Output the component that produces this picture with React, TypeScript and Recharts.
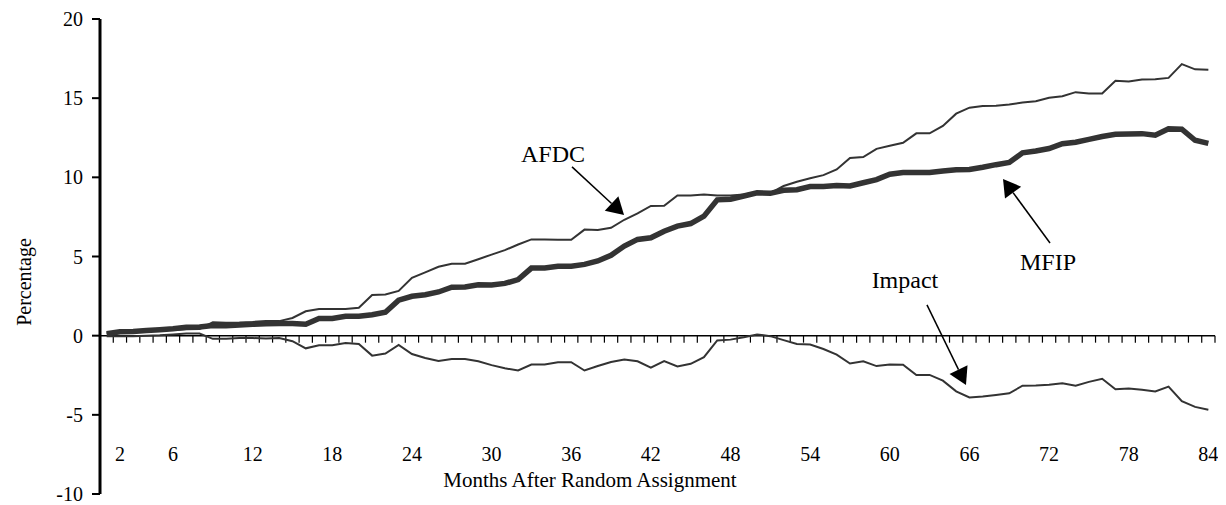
import { LineChart, Line, XAxis, YAxis, ReferenceLine } from "recharts";

const FONT = '"Liberation Serif", "Times New Roman", serif';

// months 1..84 after random assignment
const months = Array.from({ length: 84 }, (_, i) => i + 1);

const afdc = [
  0.15, 0.28, 0.3, 0.32, 0.36, 0.36, 0.4, 0.42, 0.84, 0.82, 0.83, 0.87,
  0.93, 0.92, 1.12, 1.54, 1.68, 1.68, 1.68, 1.76, 2.57, 2.6, 2.83, 3.65,
  4.0, 4.35, 4.54, 4.54, 4.83, 5.12, 5.4, 5.76, 6.08, 6.08, 6.06, 6.06,
  6.7, 6.67, 6.81, 7.32, 7.72, 8.19, 8.2, 8.86, 8.86, 8.92, 8.86, 8.86,
  8.92, 9.05, 9.0, 9.45, 9.72, 9.94, 10.14, 10.5, 11.22, 11.28, 11.8, 12.0,
  12.18, 12.78, 12.78, 13.25, 14.02, 14.4, 14.5, 14.52, 14.6, 14.72, 14.8, 15.02,
  15.12, 15.38, 15.3, 15.3, 16.1, 16.05, 16.18, 16.2, 16.28, 17.15, 16.82, 16.8,
];

const mfip = [
  0.12, 0.25, 0.27, 0.32, 0.38, 0.44, 0.53, 0.55, 0.64, 0.63, 0.68, 0.72,
  0.75, 0.77, 0.77, 0.72, 1.08, 1.08, 1.22, 1.22, 1.32, 1.48, 2.24, 2.49,
  2.59, 2.76, 3.06, 3.07, 3.22, 3.2, 3.3, 3.54, 4.27, 4.28, 4.38, 4.39,
  4.5, 4.72, 5.08, 5.66, 6.08, 6.18, 6.6, 6.92, 7.08, 7.55, 8.58, 8.62,
  8.82, 9.02, 8.99, 9.18, 9.22, 9.42, 9.42, 9.48, 9.45, 9.66, 9.86, 10.2,
  10.3, 10.3, 10.3, 10.4, 10.48, 10.5, 10.64, 10.8, 10.94, 11.55, 11.66, 11.82,
  12.12, 12.22, 12.4, 12.58, 12.72, 12.74, 12.76, 12.66, 13.06, 13.04, 12.34, 12.14,
];

const impact = [
  -0.04, -0.04, -0.04, 0.0, 0.02, 0.08, 0.13, 0.13, -0.2, -0.19, -0.15, -0.15,
  -0.18, -0.15, -0.35, -0.8, -0.61, -0.6, -0.46, -0.53, -1.26, -1.13, -0.58, -1.16,
  -1.41, -1.6, -1.48, -1.48, -1.62, -1.86, -2.06, -2.2, -1.82, -1.82, -1.68, -1.68,
  -2.2, -1.92, -1.66, -1.5, -1.62, -2.02, -1.6, -1.94, -1.78, -1.36, -0.3, -0.25,
  -0.1, 0.08, -0.03, -0.28, -0.52, -0.56, -0.84, -1.2, -1.76, -1.62, -1.92, -1.82,
  -1.84, -2.48, -2.48, -2.84, -3.52, -3.9, -3.84, -3.74, -3.64, -3.16, -3.14, -3.1,
  -3.0, -3.16, -2.92, -2.72, -3.38, -3.33, -3.42, -3.52, -3.22, -4.14, -4.5, -4.68,
];

const monthTicks = [2, 6, 12, 18, 24, 30, 36, 42, 48, 54, 60, 66, 72, 78, 84];
const pctTicks = [-10, -5, 0, 5, 10, 15, 20];

// callouts: arrow from -> to in (month, %) with label offset from the arrow tail
const callouts = [
  { text: "AFDC", from: [36.06, 10.66], to: [39.98, 7.62], dx: -19, dy: -5 },
  { text: "MFIP", from: [72.07, 5.85], to: [68.53, 9.9], dx: -2, dy: 27 },
  { text: "Impact", from: [62.8, 1.94], to: [65.74, -3.11], dx: -22, dy: -17 },
];

const data = months.map((m, i) => ({
  month: m,
  afdc: afdc[i],
  mfip: mfip[i],
  impact: impact[i],
}));

// zero line doubles as the category axis: one tick between each month
function ZeroAxis(props: any) {
  const { x1, y1, x2, y2 } = props;
  const step = (x2 - x1) / months.length;
  return (
    <g>
      <line x1={x1} y1={y1} x2={x2} y2={y2} stroke="#000" strokeWidth={1.5} />
      {months.map((m) => (
        <line
          key={m}
          x1={x1 + m * step}
          x2={x1 + m * step}
          y1={y1}
          y2={y1 + 7}
          stroke="#000"
          strokeWidth={1.2}
        />
      ))}
    </g>
  );
}

function makeArrow(text: string, dx: number, dy: number) {
  return (props: any) => {
    const { x1, y1, x2, y2 } = props;
    const len = Math.hypot(x2 - x1, y2 - y1);
    const ux = (x2 - x1) / len;
    const uy = (y2 - y1) / len;
    const head = 17;
    const half = 10;
    const bx = x2 - ux * head;
    const by = y2 - uy * head;
    const pts = `${x2},${y2} ${bx - uy * half},${by + ux * half} ${bx + uy * half},${by - ux * half}`;
    return (
      <g>
        <line x1={x1} y1={y1} x2={bx} y2={by} stroke="#000" strokeWidth={1.5} />
        <polygon points={pts} fill="#000" />
        <text x={x1 + dx} y={y1 + dy} textAnchor="middle" fontFamily={FONT} fontSize={24} fill="#000">
          {text}
        </text>
      </g>
    );
  };
}

function MonthTick(props: any) {
  const { x, payload } = props;
  return (
    <text x={x} y={453} textAnchor="middle" fontFamily={FONT} fontSize={20} fill="#000">
      {payload.value}
    </text>
  );
}

export default function App() {
  return (
    <div style={{ width: 1212, height: 497 }}>
      <LineChart width={1212} height={497} data={data} margin={{ top: 11, right: 5, bottom: 5, left: 0 }}>
        <XAxis
          dataKey="month"
          type="number"
          domain={[0.5, 84.5]}
          ticks={monthTicks}
          interval={0}
          height={6}
          axisLine={false}
          tickLine={false}
          tick={<MonthTick />}
        />
        <YAxis
          domain={[-10, 20]}
          ticks={pctTicks}
          interval={0}
          width={92}
          axisLine={{ stroke: "#000", strokeWidth: 3 }}
          tickLine={{ stroke: "#000", strokeWidth: 2 }}
          tickSize={8}
          tickMargin={9}
          tick={{ fill: "#000", fontSize: 20, fontFamily: FONT }}
        />
        <ReferenceLine y={0} shape={ZeroAxis} />
        <Line type="linear" dataKey="mfip" stroke="#333" strokeWidth={5.5} dot={false} isAnimationActive={false} />
        <Line type="linear" dataKey="afdc" stroke="#333" strokeWidth={2} dot={false} isAnimationActive={false} />
        <Line type="linear" dataKey="impact" stroke="#333" strokeWidth={2} dot={false} isAnimationActive={false} />
        {callouts.map((c) => (
          <ReferenceLine
            key={c.text}
            segment={[
              { x: c.from[0], y: c.from[1] },
              { x: c.to[0], y: c.to[1] },
            ]}
            shape={makeArrow(c.text, c.dx, c.dy)}
          />
        ))}
        <text x={16} y={274} transform="rotate(-90 16 274)" textAnchor="middle" dominantBaseline="central" fontFamily={FONT} fontSize={20} fill="#000">
          Percentage
        </text>
        <text x={582} y={479} textAnchor="middle" fontFamily={FONT} fontSize={21} fill="#000">
          Months After Random Assignment
        </text>
      </LineChart>
    </div>
  );
}
